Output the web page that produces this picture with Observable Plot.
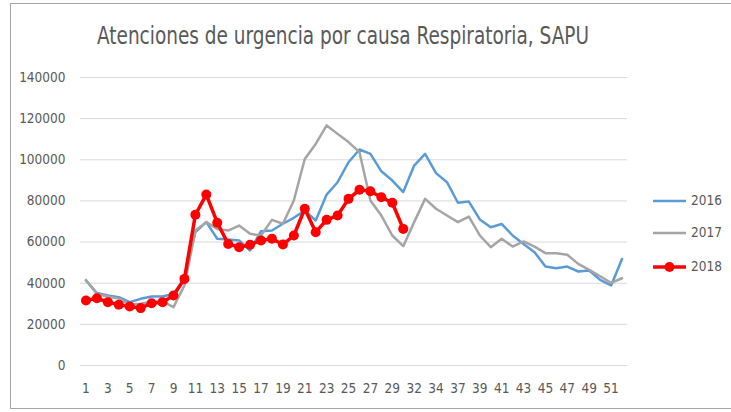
<!DOCTYPE html>
<html>
<head>
<meta charset="utf-8">
<script src="https://cdn.jsdelivr.net/npm/d3@7"></script>
<script src="https://cdn.jsdelivr.net/npm/@observablehq/plot@0.6"></script>
<style>
  html, body { margin: 0; padding: 0; background: #fff; }
  #wrap { position: relative; width: 731px; height: 412px; overflow: hidden; font-family: "DejaVu Sans Condensed", "DejaVu Sans", sans-serif; color: #595959; }
  #frame { position: absolute; left: 10px; top: 3px; width: 740px; height: 406px; border-left: 1px solid #a6a6a6; border-top: 1px solid #a6a6a6; border-bottom: 1px solid #a6a6a6; box-sizing: border-box; }
  #title { position: absolute; left: 97px; top: 24px; font-size: 24px; line-height: 24px; white-space: nowrap; transform-origin: 0 50%; }
  #chart { position: absolute; left: 0; top: 60px; }
  .leg { position: absolute; left: 653px; font-size: 13.5px; line-height: 15px; display: flex; align-items: center; }
  .leg svg { margin-right: 4px; }
</style>
</head>
<body>
<div id="wrap">
  <div id="frame"></div>
  <div id="title">Atenciones de urgencia por causa Respiratoria, SAPU</div>
  <div id="chart"></div>
  <div id="legend"></div>
</div>
<script>
// Week categories (the source axis skips weeks 31 and 36)
const weeks = [1,2,3,4,5,6,7,8,9,10,11,12,13,14,15,16,17,18,19,20,21,22,23,24,25,26,27,28,29,30,
               32,33,34,35,37,38,39,40,41,42,43,44,45,46,47,48,49,50,51,52];
const yTicks = [0, 20000, 40000, 60000, 80000, 100000, 120000, 140000];
const seriesNames = ["2016", "2017", "2018"];
const seriesColors = ["#5B9BD5", "#A5A5A5", "#FF0000"];

const v2016 = [41300, 35200, 34000, 33200, 30800, 32400, 33500, 33500, 34800, 42300,
               64800, 69700, 61600, 61200, 60800, 55900, 65300, 65600, 68900, 71800,
               75300, 70500, 83100, 89100, 98800, 105000, 102900, 94400, 89900, 84300,
               97200, 102900, 93500, 89100, 79100, 79700, 71000, 67200, 68800, 63200,
               59100, 55100, 48100, 47300, 48100, 45700, 46200, 41600, 38900, 51800];
const v2017 = [41600, 34800, 33500, 32500, 29600, 30000, 31000, 31200, 28400, 38900,
               65600, 69700, 66400, 65600, 68000, 64000, 63200, 70800, 68900, 80200,
               100400, 107700, 116700, 112600, 108600, 103700, 80200, 72900, 63200, 58000,
               69700, 81000, 76200, 72900, 69700, 72400, 63200, 57500, 61600, 57800,
               60300, 57800, 54600, 54600, 53800, 49400, 46500, 43400, 40200, 42400];
const v2018 = [31600, 32700, 30800, 29500, 28700, 27900, 30300, 30800, 34000, 42100,
               73300, 83100, 69400, 59100, 57500, 58700, 60800, 61600, 58800, 63200,
               76200, 64800, 70800, 72900, 81000, 85400, 84700, 81800, 79100, 66400];

const rows = [];
[v2016, v2017, v2018].forEach((vals, s) => {
  vals.forEach((v, i) => rows.push({week: weeks[i], value: v, series: seriesNames[s]}));
});
const red = rows.filter(d => d.series === "2018");

const plot = Plot.plot({
  width: 731,
  height: 350,
  marginLeft: 80,
  marginRight: 104,
  marginTop: 17,
  marginBottom: 45,
  style: {fontFamily: '"DejaVu Sans Condensed", "DejaVu Sans", sans-serif', fontSize: "13.5px", color: "#595959", background: "transparent", overflow: "visible"},
  x: {type: "point", domain: weeks, padding: 0.5},
  y: {domain: [0, 140000]},
  color: {domain: seriesNames, range: seriesColors},
  marks: [
    Plot.gridY(yTicks, {stroke: "#d9d9d9", strokeOpacity: 1, strokeWidth: 1}),
    Plot.axisY({ticks: yTicks, tickSize: 0, tickPadding: 15, tickFormat: d => String(d), label: null, fill: "#595959"}),
    Plot.axisX({ticks: weeks.filter((d, i) => i % 2 === 0), tickSize: 0, tickPadding: 18, tickFormat: d => String(d), label: null, fill: "#595959"}),
    Plot.line(rows.filter(d => d.series !== "2018"), {x: "week", y: "value", z: "series", stroke: "series", strokeWidth: 2.5, curve: "linear"}),
    Plot.line(red, {x: "week", y: "value", stroke: "series", strokeWidth: 3.5}),
    Plot.dot(red, {x: "week", y: "value", fill: "series", r: 5, stroke: "none"})
  ]
});
document.getElementById("chart").appendChild(plot);

// Fit the title to the reference width (the original font is narrower)
const title = document.getElementById("title");
const tw = title.getBoundingClientRect().width;
title.style.transform = `scaleX(${492 / tw})`;

// Legend
const legendTops = [193, 225, 259];
const legend = document.getElementById("legend");
seriesNames.forEach((name, i) => {
  const div = document.createElement("div");
  div.className = "leg";
  div.style.top = legendTops[i] + "px";
  const sw = d3.create("svg").attr("width", 34).attr("height", 14);
  sw.append("line").attr("x1", 0).attr("x2", 33).attr("y1", 7).attr("y2", 7)
    .attr("stroke", seriesColors[i]).attr("stroke-width", i === 2 ? 3.5 : 2.5);
  if (i === 2) sw.append("circle").attr("cx", 16.5).attr("cy", 7).attr("r", 5).attr("fill", seriesColors[i]);
  div.appendChild(sw.node());
  const t = document.createElement("span");
  t.textContent = name;
  div.appendChild(t);
  legend.appendChild(div);
});
</script>
</body>
</html>
